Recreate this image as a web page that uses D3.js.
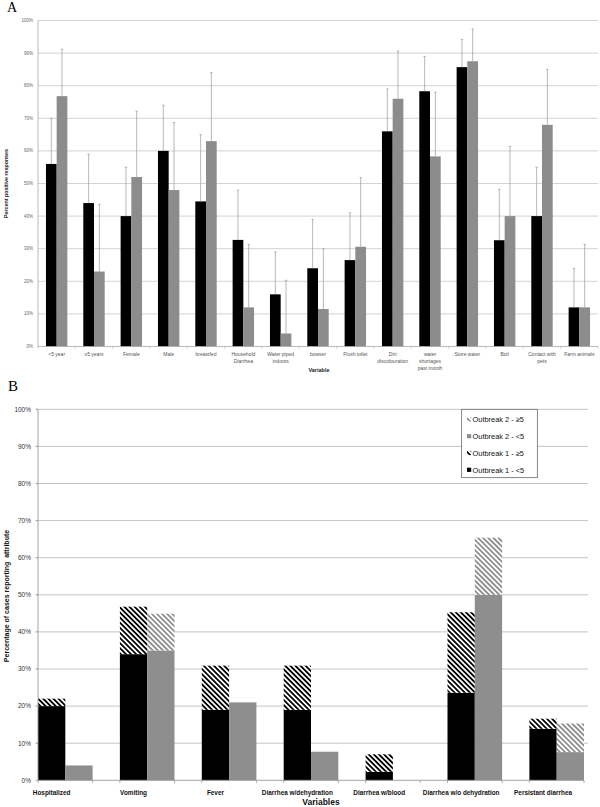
<!DOCTYPE html>
<html>
<head>
<meta charset="utf-8">
<script src="https://cdn.jsdelivr.net/npm/d3@7/dist/d3.min.js"></script>
<style>
  body { margin: 0; background: #fff; }
  svg { display: block; font-family: "Liberation Sans", Arial, sans-serif; }
</style>
</head>
<body>
<script>
// ---- Panel A data
var catsA = ["<5 year", "\u22655 years", "Female", "Male", "breastfed", "Household\nDiarrhea",
    "Water piped\nindoors", "bowser", "Flush toilet", "Dirt\ndiscolouration",
    "water\nshortages\npast month", "Store water", "Boil", "Contact with\npets", "Farm animals"];
var blackA = [56, 44, 40, 60, 44.5, 32.7, 16, 24, 26.5, 66, 78.3, 85.7, 32.6, 40, 12];
var blackErrA = [70, 59, 55, 74, 65, 48, 29, 39, 41, 79, 89, 94.2, 48.2, 55, 24];
var grayA = [76.8, 23, 52, 48, 63, 12, 4, 11.5, 30.6, 76, 58.3, 87.5, 40, 68, 12];
var grayErrA = [91.2, 43.6, 72.2, 68.7, 84, 31.3, 20.3, 30, 51.8, 90.6, 78, 97.4, 61.4, 85, 31.3];
var ticksA = [0, 10, 20, 30, 40, 50, 60, 70, 80, 90, 100];

// ---- Panel B data
var catsB = ["Hospitalized", "Vomiting", "Fever", "Diarrhea w/dehydration", "Diarrhea w/blood",
    "Diarrhea w/o dehydration", "Persistant diarrhea"];
var o1Under5 = [20, 34, 19, 19, 2.3, 23.6, 13.9];
var o1Over5 = [2, 12.8, 11.9, 11.9, 4.7, 21.7, 2.7];
var o2Under5 = [4, 35, 21, 7.7, 0, 50, 7.6];
var o2Over5 = [0, 9.9, 0, 0, 0, 15.4, 7.7];
var ticksB = [0, 10, 20, 30, 40, 50, 60, 70, 80, 90, 100];
var legendB = ["Outbreak 2 - \u22655", "Outbreak 2 - <5", "Outbreak 1 - \u22655", "Outbreak 1 - <5"];

var svg = d3.select("body").append("svg")
    .attr("width", 600)
    .attr("height", 807);

var defs = svg.append("defs");
function stripes(id, color) {
    var p = defs.append("pattern")
        .attr("id", id)
        .attr("patternUnits", "userSpaceOnUse")
        .attr("width", 3.6)
        .attr("height", 3.6)
        .attr("patternTransform", "rotate(-45)");
    p.append("rect").attr("width", 3.6).attr("height", 3.6).attr("fill", "#fff");
    p.append("rect").attr("width", 1.8).attr("height", 3.6).attr("fill", color);
}
stripes("hatchBlack", "#000");
stripes("hatchGray", "#8e8e8e");

// =================== Panel A
var gA = svg.append("g");
var xA = d3.scaleBand().domain(catsA).range([38, 598]);
var yA = d3.scaleLinear().domain([0, 100]).range([346.5, 20.5]);
var barW = 10.7;

gA.append("text")
    .attr("x", 7).attr("y", 11.5)
    .style("font-family", "'Liberation Serif', serif")
    .style("font-size", "14px")
    .text("A");

gA.selectAll(".gridA")
    .data(ticksA.slice(1))
    .enter().append("line")
    .attr("x1", 38).attr("x2", 598)
    .attr("y1", function(d) { return yA(d); })
    .attr("y2", function(d) { return yA(d); })
    .attr("stroke", "#c8c8c8")
    .attr("stroke-width", 0.8);

gA.selectAll(".tickA")
    .data(ticksA)
    .enter().append("text")
    .attr("x", 33)
    .attr("y", function(d) { return yA(d) + 1.5; })
    .attr("text-anchor", "end")
    .style("font-size", "4.5px")
    .attr("fill", "#666")
    .text(function(d) { return d + "%"; });

// bars
gA.selectAll(".barBlackA")
    .data(blackA)
    .enter().append("rect")
    .attr("x", function(d, i) { return xA(catsA[i]) + xA.bandwidth() / 2 - barW; })
    .attr("y", function(d) { return yA(d); })
    .attr("width", barW)
    .attr("height", function(d) { return yA(0) - yA(d); })
    .attr("fill", "#000");

gA.selectAll(".barGrayA")
    .data(grayA)
    .enter().append("rect")
    .attr("x", function(d, i) { return xA(catsA[i]) + xA.bandwidth() / 2; })
    .attr("y", function(d) { return yA(d); })
    .attr("width", barW)
    .attr("height", function(d) { return yA(0) - yA(d); })
    .attr("fill", "#8c8c8c");

// error bars
function errBars(vals, errs, offset) {
    var eb = gA.selectAll(null)
        .data(vals)
        .enter().append("g")
        .attr("stroke", "#999")
        .attr("stroke-width", 0.7);
    eb.append("line")
        .attr("x1", function(d, i) { return xA(catsA[i]) + xA.bandwidth() / 2 + offset; })
        .attr("x2", function(d, i) { return xA(catsA[i]) + xA.bandwidth() / 2 + offset; })
        .attr("y1", function(d) { return yA(d); })
        .attr("y2", function(d, i) { return yA(errs[i]); });
    eb.append("line")
        .attr("x1", function(d, i) { return xA(catsA[i]) + xA.bandwidth() / 2 + offset - 1.2; })
        .attr("x2", function(d, i) { return xA(catsA[i]) + xA.bandwidth() / 2 + offset + 1.2; })
        .attr("y1", function(d, i) { return yA(errs[i]); })
        .attr("y2", function(d, i) { return yA(errs[i]); });
}
errBars(blackA, blackErrA, -barW / 2);
errBars(grayA, grayErrA, barW / 2);

// axes lines
gA.append("line").attr("x1", 38).attr("x2", 38).attr("y1", 20.5).attr("y2", 346.5)
    .attr("stroke", "#aaa").attr("stroke-width", 0.8);
gA.append("line").attr("x1", 38).attr("x2", 598).attr("y1", 346.5).attr("y2", 346.5)
    .attr("stroke", "#aaa").attr("stroke-width", 0.8);
gA.selectAll(".xtickA")
    .data(catsA.concat([null]))
    .enter().append("line")
    .attr("x1", function(d) { return d === null ? 598 : xA(d); })
    .attr("x2", function(d) { return d === null ? 598 : xA(d); })
    .attr("y1", 346.5).attr("y2", 348.5)
    .attr("stroke", "#aaa").attr("stroke-width", 0.6);

gA.selectAll(".labA")
    .data(catsA)
    .enter().append("text")
    .attr("text-anchor", "middle")
    .attr("fill", "#555")
    .style("font-size", "5px")
    .each(function(d) {
        var t = d3.select(this);
        d.split("\n").forEach(function(s, k) {
            t.append("tspan")
                .attr("x", xA(d) + xA.bandwidth() / 2)
                .attr("y", 356 + k * 7)
                .text(s);
        });
    });

gA.append("text")
    .attr("x", 319).attr("y", 372)
    .attr("text-anchor", "middle")
    .style("font-size", "5.5px")
    .style("font-weight", "bold")
    .attr("fill", "#222")
    .text("Variable");

gA.append("text")
    .attr("transform", "translate(7.5,183.5) rotate(-90)")
    .attr("text-anchor", "middle")
    .style("font-size", "5.3px")
    .style("font-weight", "bold")
    .attr("fill", "#222")
    .text("Percent positive responses");

// =================== Panel B
var gB = svg.append("g");
var xB = d3.scaleLinear().domain([0, 20]).range([38, 584]);
var yB = d3.scaleLinear().domain([0, 100]).range([780.3, 409.3]);
var slotW = xB(1) - xB(0);

gB.append("text")
    .attr("x", 8).attr("y", 391)
    .style("font-family", "'Liberation Serif', serif")
    .style("font-size", "15px")
    .text("B");

gB.selectAll(".gridB")
    .data(ticksB.slice(1))
    .enter().append("line")
    .attr("x1", 36).attr("x2", 588)
    .attr("y1", function(d) { return yB(d); })
    .attr("y2", function(d) { return yB(d); })
    .attr("stroke", "#bdbdbd")
    .attr("stroke-width", 0.9);

gB.selectAll(".tickB")
    .data(ticksB)
    .enter().append("text")
    .attr("x", 31)
    .attr("y", function(d) { return yB(d) + 2.3; })
    .attr("text-anchor", "end")
    .style("font-size", "6.5px")
    .attr("fill", "#333")
    .text(function(d) { return d + "%"; });

function stackB(under, over, slotOff, solid, hatch) {
    gB.selectAll(null)
        .data(under)
        .enter().append("rect")
        .attr("x", function(d, i) { return xB(3 * i + slotOff); })
        .attr("y", function(d) { return yB(d); })
        .attr("width", slotW)
        .attr("height", function(d) { return yB(0) - yB(d); })
        .attr("fill", solid);
    gB.selectAll(null)
        .data(over)
        .enter().append("rect")
        .attr("x", function(d, i) { return xB(3 * i + slotOff); })
        .attr("y", function(d, i) { return yB(under[i] + d); })
        .attr("width", slotW)
        .attr("height", function(d, i) { return yB(under[i]) - yB(under[i] + d); })
        .attr("fill", hatch);
}
stackB(o1Under5, o1Over5, 0, "#000", "url(#hatchBlack)");
stackB(o2Under5, o2Over5, 1, "#8e8e8e", "url(#hatchGray)");

// axes
gB.append("line").attr("x1", 38).attr("x2", 38).attr("y1", 409.3).attr("y2", 780.3)
    .attr("stroke", "#999").attr("stroke-width", 0.9);
gB.append("line").attr("x1", 38).attr("x2", 584).attr("y1", 780.3).attr("y2", 780.3)
    .attr("stroke", "#999").attr("stroke-width", 0.9);
gB.selectAll(".ytB")
    .data(ticksB)
    .enter().append("line")
    .attr("x1", 35.5).attr("x2", 38)
    .attr("y1", function(d) { return yB(d); })
    .attr("y2", function(d) { return yB(d); })
    .attr("stroke", "#999").attr("stroke-width", 0.8);
var tickSlots = [];
catsB.forEach(function(c, i) { tickSlots.push(3 * i, 3 * i + 2); });
gB.selectAll(".xtB")
    .data(tickSlots)
    .enter().append("line")
    .attr("x1", function(d) { return xB(d); })
    .attr("x2", function(d) { return xB(d); })
    .attr("y1", 780.3).attr("y2", 783)
    .attr("stroke", "#999").attr("stroke-width", 0.8);

gB.selectAll(".labB")
    .data(catsB)
    .enter().append("text")
    .attr("x", function(d, i) { return xB(3 * i + 0.5); })
    .attr("y", 794.5)
    .attr("text-anchor", "middle")
    .style("font-size", "6.4px")
    .style("font-weight", "bold")
    .attr("fill", "#111")
    .text(function(d) { return d; });

gB.append("text")
    .attr("x", 321).attr("y", 805)
    .attr("text-anchor", "middle")
    .style("font-size", "8.5px")
    .style("font-weight", "bold")
    .attr("fill", "#111")
    .text("Variables");

gB.append("text")
    .attr("transform", "translate(9,596) rotate(-90)")
    .attr("text-anchor", "middle")
    .style("font-size", "7px")
    .style("font-weight", "bold")
    .attr("fill", "#111")
    .attr("xml:space", "preserve")
    .text("Percentage of cases reporting  attribute");

// legend
var lg = gB.append("g");
lg.append("rect")
    .attr("x", 461.7).attr("y", 409.3)
    .attr("width", 75.6).attr("height", 68.4)
    .attr("fill", "#fff")
    .attr("stroke", "#555")
    .attr("stroke-width", 0.7);
var swatchFill = ["url(#hatchGray)", "#8e8e8e", "url(#hatchBlack)", "#000"];
var leg = lg.selectAll(".legB")
    .data(legendB)
    .enter().append("g")
    .attr("transform", function(d, i) { return "translate(467," + (419.5 + i * 16.8) + ")"; });
leg.append("rect")
    .attr("x", 0).attr("y", -2.2)
    .attr("width", 4.2).attr("height", 4.2)
    .attr("fill", function(d, i) { return swatchFill[i]; });
leg.append("text")
    .attr("x", 5.6).attr("y", 2.6)
    .style("font-size", "7.4px")
    .attr("fill", "#111")
    .text(function(d) { return d; });
</script>
</body>
</html>
